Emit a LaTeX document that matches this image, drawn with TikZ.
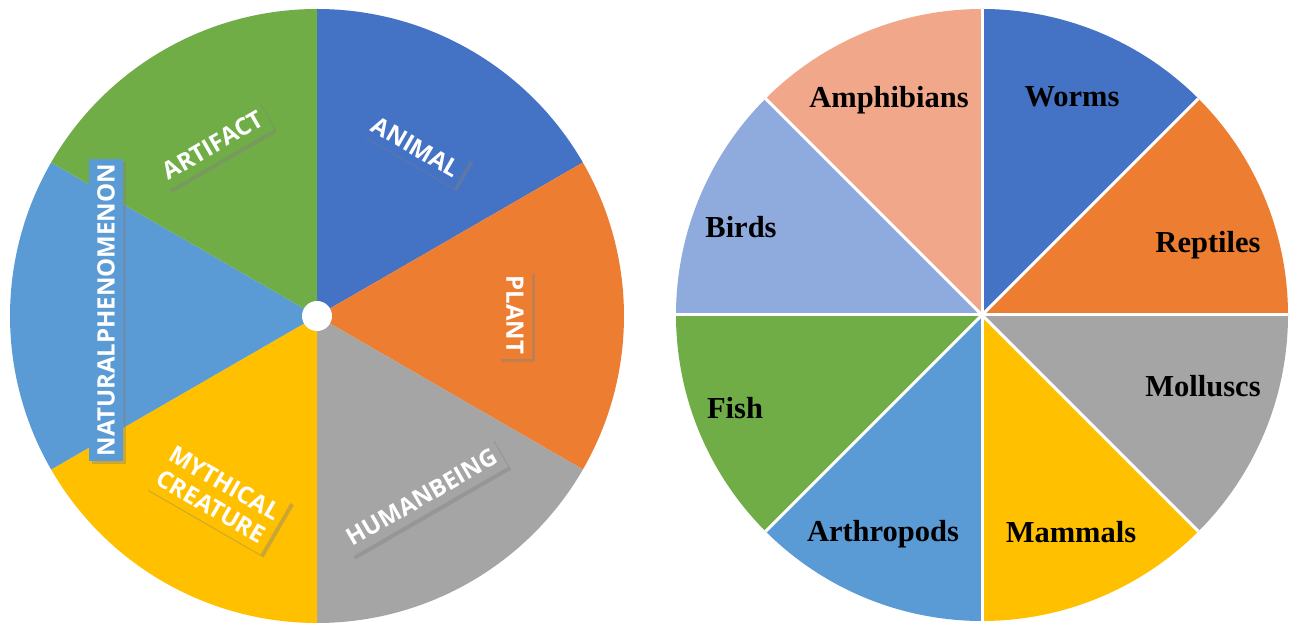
\documentclass[tikz,border=0pt]{standalone}
\usepackage{fontspec}
\setmainfont{Liberation Serif}
\newfontfamily\tagfont{Open Sans}
\usetikzlibrary{shadows}
\definecolor{blueA}{HTML}{4472C4}
\definecolor{orangeA}{HTML}{ED7D31}
\definecolor{grayA}{HTML}{A5A5A5}
\definecolor{goldA}{HTML}{FFC000}
\definecolor{skyA}{HTML}{5B9BD5}
\definecolor{greenA}{HTML}{70AD47}
\definecolor{lavA}{HTML}{8FAADC}
\definecolor{salmonA}{HTML}{F1A78A}
\begin{document}
\begin{tikzpicture}
    [x=1pt,y=1pt,
     wedgetag/.style={inner xsep=5pt,inner ysep=8pt,text=white,align=center,
       font=\tagfont\bfseries\fontsize{24}{27}\selectfont,
       drop shadow={shadow xshift=3pt,shadow yshift=-3pt,opacity=0.4}},
     kindtag/.style={anchor=base,text=black,font=\bfseries\fontsize{30.5}{34}\selectfont},
     spoke/.style={white,line width=3pt}]
    \useasboundingbox (0,0) rectangle (1294,623);
    \coordinate (lc) at (317,307);
    \coordinate (rc) at (982,308);
    % left pie
    \fill[blueA] (lc) -- ++(90:307) arc[start angle=90,end angle=30,radius=307] -- cycle;
    \fill[orangeA] (lc) -- ++(30:307) arc[start angle=30,end angle=-30,radius=307] -- cycle;
    \fill[grayA] (lc) -- ++(-30:307) arc[start angle=-30,end angle=-90,radius=307] -- cycle;
    \fill[goldA] (lc) -- ++(-90:307) arc[start angle=-90,end angle=-150,radius=307] -- cycle;
    \fill[skyA] (lc) -- ++(210:307) arc[start angle=210,end angle=150,radius=307] -- cycle;
    \fill[greenA] (lc) -- ++(150:307) arc[start angle=150,end angle=90,radius=307] -- cycle;
    \fill[white] (lc) circle (15);
    \node [wedgetag,fill=blueA,rotate=-30] (animal) at (416,476) {ANIMAL};
    \node [wedgetag,fill=orangeA,rotate=-90] (plant) at (515,308) {PLANT};
    \node [wedgetag,fill=grayA,rotate=30] (human) at (422,126) {HUMANBEING};
    \node [wedgetag,fill=goldA,rotate=-30] (mythical) at (218,128) {MYTHICAL\\CREATURE};
    \node [wedgetag,fill=skyA,rotate=90] (natural) at (106,313) {NATURALPHENOMENON};
    \node [wedgetag,fill=greenA,rotate=30] (artifact) at (213,478) {ARTIFACT};
    % right pie
    \fill[blueA] (rc) -- ++(90:306) arc[start angle=90,end angle=45,radius=306] -- cycle;
    \fill[orangeA] (rc) -- ++(45:306) arc[start angle=45,end angle=0,radius=306] -- cycle;
    \fill[grayA] (rc) -- ++(0:306) arc[start angle=0,end angle=-45,radius=306] -- cycle;
    \fill[goldA] (rc) -- ++(-45:306) arc[start angle=-45,end angle=-90,radius=306] -- cycle;
    \fill[skyA] (rc) -- ++(-90:306) arc[start angle=-90,end angle=-135,radius=306] -- cycle;
    \fill[greenA] (rc) -- ++(225:306) arc[start angle=225,end angle=180,radius=306] -- cycle;
    \fill[lavA] (rc) -- ++(180:306) arc[start angle=180,end angle=135,radius=306] -- cycle;
    \fill[salmonA] (rc) -- ++(135:306) arc[start angle=135,end angle=90,radius=306] -- cycle;
    \draw[spoke] (rc) -- ++(90:306);
    \draw[spoke] (rc) -- ++(45:306);
    \draw[spoke] (rc) -- ++(0:306);
    \draw[spoke] (rc) -- ++(-45:306);
    \draw[spoke] (rc) -- ++(-90:306);
    \draw[spoke] (rc) -- ++(-135:306);
    \draw[spoke] (rc) -- ++(180:306);
    \draw[spoke] (rc) -- ++(135:306);
    \node [kindtag] (amphibians) at (889,515) {Amphibians};
    \node [kindtag] (worms) at (1072,516) {Worms};
    \node [kindtag] (reptiles) at (1208,370) {Reptiles};
    \node [kindtag] (molluscs) at (1203,226) {Molluscs};
    \node [kindtag] (mammals) at (1071,80) {Mammals};
    \node [kindtag] (arthropods) at (883,81) {Arthropods};
    \node [kindtag] (fish) at (735,204) {Fish};
    \node [kindtag] (birds) at (741,385) {Birds};
  \end{tikzpicture}
\end{document}
